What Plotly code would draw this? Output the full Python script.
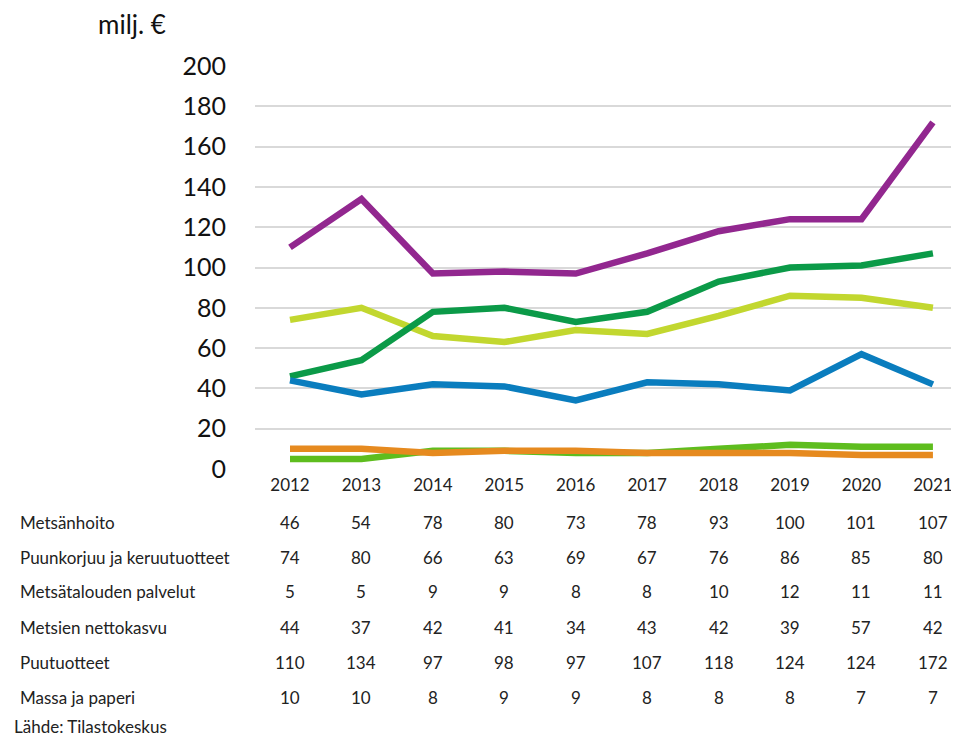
import plotly.graph_objects as go

years = ["2012", "2013", "2014", "2015", "2016", "2017", "2018", "2019", "2020", "2021"]

metsanhoito = [46, 54, 78, 80, 73, 78, 93, 100, 101, 107]
puunkorjuu = [74, 80, 66, 63, 69, 67, 76, 86, 85, 80]
palvelut = [5, 5, 9, 9, 8, 8, 10, 12, 11, 11]
nettokasvu = [44, 37, 42, 41, 34, 43, 42, 39, 57, 42]
puutuotteet = [110, 134, 97, 98, 97, 107, 118, 124, 124, 172]
massa = [10, 10, 8, 9, 9, 8, 8, 8, 7, 7]

series = [
    ("Metsänhoito", metsanhoito, "#0B9A48"),
    ("Puunkorjuu ja keruutuotteet", puunkorjuu, "#C2D72F"),
    ("Metsätalouden palvelut", palvelut, "#5EBD1E"),
    ("Metsien nettokasvu", nettokasvu, "#0A7DBE"),
    ("Puutuotteet", puutuotteet, "#92278F"),
    ("Massa ja paperi", massa, "#E68A1F"),
]
# drawing order (bottom to top)
draw_order = [1, 0, 2, 4, 3, 5]

FONT = "Lato, Open Sans, sans-serif"
# page body has an 8px margin, so the figure is drawn 8px in from the corner
OFF = 8
W, H = 959 - OFF, 739 - OFF
L, R, T, B = 255 - OFF, 0, 66 - OFF, 270
pw, ph = W - L - R, H - T - B

fig = go.Figure()
for i in draw_order:
    name, vals, col = series[i]
    fig.add_trace(go.Scatter(
        x=list(range(len(years))), y=vals, mode="lines", name=name,
        line=dict(color=col, width=6.5), cliponaxis=False,
    ))

def px_x(px):
    return (px - OFF - L) / pw

def px_y(py):
    return (H - B - (py - OFF)) / ph

anns = []
row_y = [522, 557, 591, 627, 662, 697]
for (name, vals, col), ry in zip(series, row_y):
    anns.append(dict(x=px_x(18), y=px_y(ry), xref="paper", yref="paper",
                     text=name, showarrow=False, xanchor="left", yanchor="middle",
                     font=dict(size=17, color="#222")))
    for j, v in enumerate(vals):
        anns.append(dict(x=j, y=px_y(ry), xref="x", yref="paper", text=str(v),
                         showarrow=False, xanchor="center", yanchor="middle",
                         font=dict(size=17, color="#222")))
anns.append(dict(x=px_x(12), y=px_y(726), xref="paper", yref="paper",
                 text="Lähde: Tilastokeskus", showarrow=False, xanchor="left",
                 yanchor="middle", font=dict(size=17, color="#222")))
anns.append(dict(x=px_x(96), y=px_y(24), xref="paper", yref="paper",
                 text="milj. €", showarrow=False, xanchor="left",
                 yanchor="middle", font=dict(size=26, color="#111")))

fig.update_layout(
    width=W, height=H,
    margin=dict(l=L, r=R, t=T, b=B),
    paper_bgcolor="white", plot_bgcolor="white",
    showlegend=False,
    font=dict(family=FONT, color="#222"),
    xaxis=dict(
        tickmode="array", tickvals=list(range(len(years))), ticktext=years,
        range=[-0.49, 9.365], showgrid=False, zeroline=False, showline=False,
        ticks="", tickfont=dict(size=17), ticklabelstandoff=4,
    ),
    yaxis=dict(
        range=[0, 200], tickvals=list(range(0, 201, 20)),
        showgrid=True, gridcolor="#D9D9D9", gridwidth=2, zeroline=False,
        showline=False, ticks="", tickfont=dict(size=25, color="#111"),
        ticklabelstandoff=28,
    ),
    annotations=anns,
)

fig.write_html("out.html")
